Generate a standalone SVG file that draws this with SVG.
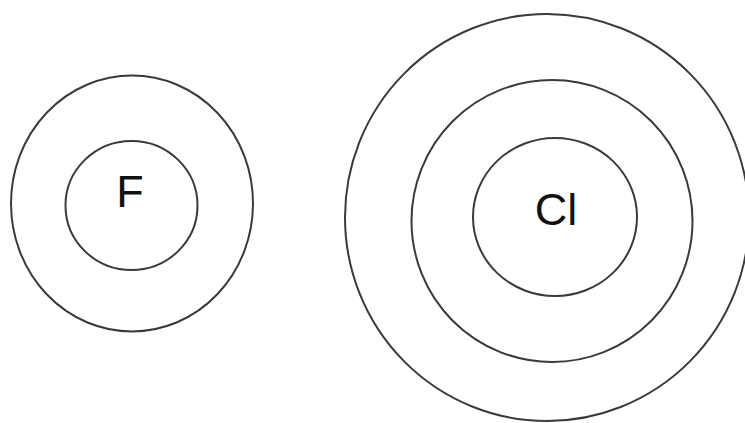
<svg xmlns="http://www.w3.org/2000/svg" width="745" height="423" viewBox="0 0 745 423">
<style>
.shell{fill:none;stroke:#3a3a3a;stroke-width:2}
.lbl{font-family:"Liberation Sans",Arial,sans-serif;font-size:45px;fill:#111;text-anchor:middle}
</style>
<rect width="745" height="423" fill="#fff"/>
<g id="fluorine">
<ellipse class="shell" cx="132" cy="203.5" rx="121" ry="128"/>
<ellipse class="shell" cx="131.5" cy="205.5" rx="66" ry="64.5"/>
<text class="lbl" x="130" y="207">F</text>
</g>
<g id="chlorine">
<ellipse class="shell" cx="547" cy="217.5" rx="202" ry="203.5"/>
<ellipse class="shell" cx="552" cy="221" rx="140.5" ry="141"/>
<ellipse class="shell" cx="555" cy="217" rx="82" ry="79"/>
<text class="lbl" x="556" y="225">Cl</text>
</g>
<g id="connectors"/>
</svg>
